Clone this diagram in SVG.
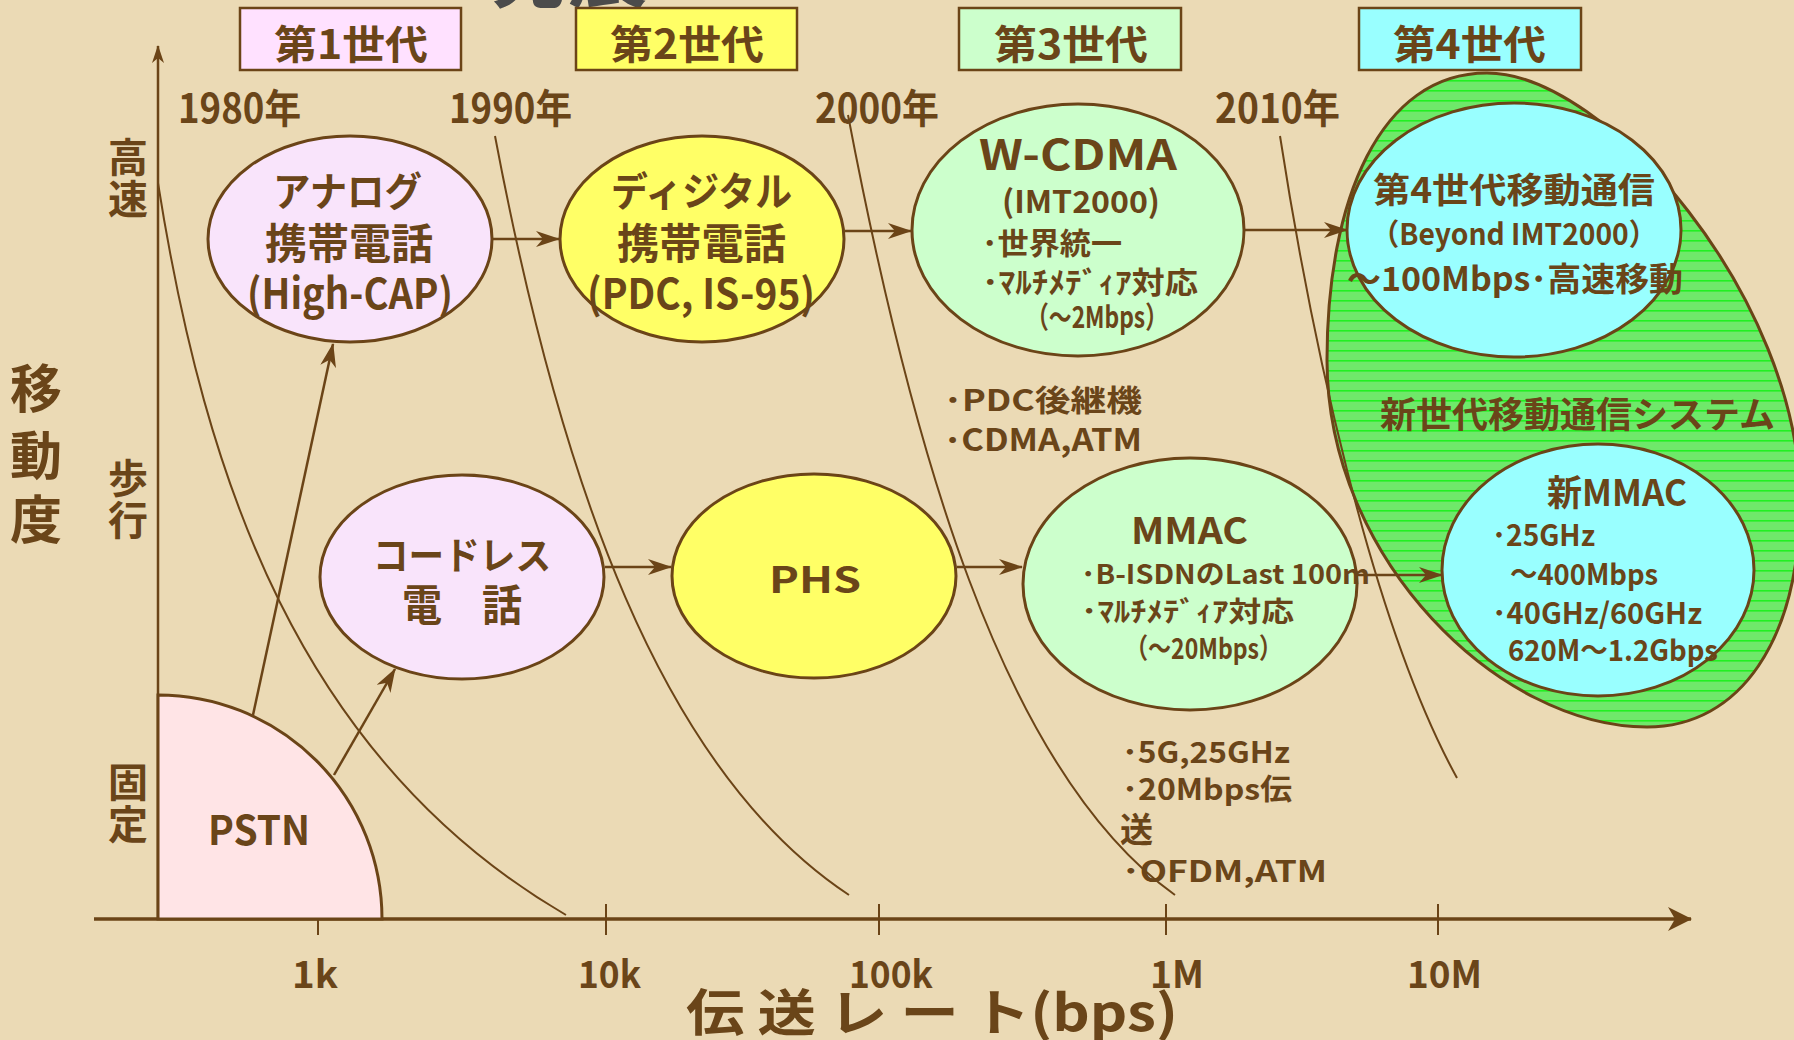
<svg xmlns="http://www.w3.org/2000/svg" width="1794" height="1040" viewBox="0 0 1794 1040">
<defs>
<style>
.t{font-family:"Noto Sans CJK JP","Noto Sans",sans-serif;font-weight:bold;fill:#6A4519;}
.ln{fill:none;stroke:#6B4417;stroke-width:2;}
.el{stroke:#6B4417;stroke-width:3;}
.box{stroke:#6B4417;stroke-width:2.5;}
.ar{fill:none;stroke:#6B4417;stroke-width:2.5;marker-end:url(#ah);}
</style>
<marker id="ah" viewBox="0 0 24 16" refX="23" refY="8" markerWidth="24" markerHeight="16" markerUnits="userSpaceOnUse" orient="auto"><path d="M0,0 L24,8 L0,16 L7,8 Z" fill="#6B4417"/></marker>
<marker id="ahx" viewBox="0 0 24 24" refX="23" refY="12" markerWidth="24" markerHeight="24" markerUnits="userSpaceOnUse" orient="auto"><path d="M0,0 L24,12 L0,24 L7,12 Z" fill="#6B4417"/></marker>
<marker id="ahy" viewBox="0 0 18 12" refX="17" refY="6" markerWidth="18" markerHeight="12" markerUnits="userSpaceOnUse" orient="auto"><path d="M0,0 L18,6 L0,12 L5,6 Z" fill="#6B4417"/></marker>
<pattern id="hatch" width="10" height="10" patternUnits="userSpaceOnUse"><rect width="10" height="10" fill="#6FE86A"/><rect y="0" width="10" height="1.6" fill="#22F022"/></pattern>
</defs>
<rect id="background" x="0" y="0" width="1794" height="1040" fill="#EBDAB5"/>
<text class="t" x="488" y="1" font-size="76" textLength="160" lengthAdjust="spacingAndGlyphs" style="fill:#4B4B4B">発展</text>

<g id="n-newgen">
<path d="M1487,73 C1607,73 1800,300 1800,500 C1800,640 1740,727 1647,727 C1500,727 1327,560 1327,360 C1327,200 1380,73 1487,73 Z" fill="url(#hatch)" class="el"/>
<text class="t" x="1380" y="428" font-size="36" textLength="395" lengthAdjust="spacingAndGlyphs">新世代移動通信システム</text>
</g>

<g id="era-lines">
<path class="ln" d="M158,183 C205,480 300,760 566,915"/>
<path class="ln" d="M495,136 C560,480 660,770 849,895"/>
<path class="ln" d="M848,115 C910,440 1000,770 1175,895"/>
<path class="ln" d="M1280,136 C1310,330 1370,620 1457,778"/>
</g>

<g id="axes">
<line x1="158" y1="919" x2="158" y2="46" stroke="#6B4417" stroke-width="2.5" marker-end="url(#ahy)"/>
<line x1="94" y1="919" x2="1691" y2="919" stroke="#6B4417" stroke-width="3.5" marker-end="url(#ahx)"/>
<g stroke="#6B4417" stroke-width="2">
<line x1="318" y1="904" x2="318" y2="935"/>
<line x1="606" y1="904" x2="606" y2="935"/>
<line x1="879" y1="904" x2="879" y2="935"/>
<line x1="1166" y1="904" x2="1166" y2="935"/>
<line x1="1438" y1="904" x2="1438" y2="935"/>
</g>
<text class="t" x="292" y="988" font-size="38" textLength="46" lengthAdjust="spacingAndGlyphs">1k</text>
<text class="t" x="578" y="988" font-size="38" textLength="63" lengthAdjust="spacingAndGlyphs">10k</text>
<text class="t" x="849" y="988" font-size="38" textLength="84" lengthAdjust="spacingAndGlyphs">100k</text>
<text class="t" x="1150" y="988" font-size="38" textLength="54" lengthAdjust="spacingAndGlyphs">1M</text>
<text class="t" x="1407" y="988" font-size="38" textLength="75" lengthAdjust="spacingAndGlyphs">10M</text>
<text class="t" x="686" y="1031" font-size="50" textLength="492" lengthAdjust="spacingAndGlyphs">伝 送 レ ー ト(bps)</text>
<g text-anchor="middle">
<text class="t" x="128" y="172" font-size="40">高</text>
<text class="t" x="128" y="214" font-size="40">速</text>
<text class="t" x="128" y="493" font-size="40">歩</text>
<text class="t" x="128" y="535" font-size="40">行</text>
<text class="t" x="128" y="797" font-size="40">固</text>
<text class="t" x="128" y="839" font-size="40">定</text>
<text class="t" x="36" y="408" font-size="52">移</text>
<text class="t" x="36" y="475" font-size="52">動</text>
<text class="t" x="36" y="539" font-size="52">度</text>
</g>
<text class="t" x="178" y="123" font-size="40" textLength="123" lengthAdjust="spacingAndGlyphs">1980年</text>
<text class="t" x="449" y="123" font-size="40" textLength="123" lengthAdjust="spacingAndGlyphs">1990年</text>
<text class="t" x="815" y="123" font-size="40" textLength="124" lengthAdjust="spacingAndGlyphs">2000年</text>
<text class="t" x="1215" y="123" font-size="40" textLength="125" lengthAdjust="spacingAndGlyphs">2010年</text>
</g>

<g id="n-gen1"><rect class="box" x="240" y="8" width="221" height="62" fill="#FFE1FF"/><text class="t" x="274" y="59" font-size="40" textLength="154" lengthAdjust="spacingAndGlyphs">第1世代</text></g>
<g id="n-gen2"><rect class="box" x="576" y="8" width="221" height="62" fill="#FFFF66"/><text class="t" x="610" y="59" font-size="40" textLength="154" lengthAdjust="spacingAndGlyphs">第2世代</text></g>
<g id="n-gen3"><rect class="box" x="959" y="8" width="222" height="62" fill="#CCFFCC"/><text class="t" x="994" y="59" font-size="40" textLength="154" lengthAdjust="spacingAndGlyphs">第3世代</text></g>
<g id="n-gen4"><rect class="box" x="1359" y="8" width="222" height="62" fill="#99FFFF"/><text class="t" x="1393" y="59" font-size="40" textLength="153" lengthAdjust="spacingAndGlyphs">第4世代</text></g>

<g id="n-pstn">
<path class="el" d="M158,919 L158,695 A224,224 0 0 1 382,919 Z" fill="#FFE4E6"/>
<text class="t" x="208" y="845" font-size="41" textLength="102" lengthAdjust="spacingAndGlyphs">PSTN</text>
</g>

<g id="n-analog">
<ellipse class="el" cx="350" cy="239" rx="142" ry="103" fill="#F9E4FB"/>
<text class="t" x="273" y="206" font-size="40" textLength="149" lengthAdjust="spacingAndGlyphs">アナログ</text>
<text class="t" x="265" y="259" font-size="42" textLength="168" lengthAdjust="spacingAndGlyphs">携帯電話</text>
<text class="t" x="247" y="309" font-size="42" textLength="206" lengthAdjust="spacingAndGlyphs">(High-CAP)</text>
</g>

<g id="n-digital">
<ellipse class="el" cx="702" cy="239" rx="142" ry="103" fill="#FFFF66"/>
<text class="t" x="611" y="206" font-size="40" textLength="181" lengthAdjust="spacingAndGlyphs">ディジタル</text>
<text class="t" x="617" y="259" font-size="42" textLength="169" lengthAdjust="spacingAndGlyphs">携帯電話</text>
<text class="t" x="587" y="309" font-size="42" textLength="228" lengthAdjust="spacingAndGlyphs">(PDC, IS-95)</text>
</g>

<g id="n-wcdma">
<ellipse class="el" cx="1078" cy="230" rx="166" ry="126" fill="#CCFFCC"/>
<text class="t" x="979" y="170" font-size="42" textLength="198" lengthAdjust="spacingAndGlyphs">W-CDMA</text>
<text class="t" x="1002" y="213" font-size="31" textLength="158" lengthAdjust="spacingAndGlyphs">(IMT2000)</text>
<text class="t" x="982" y="254" font-size="30" textLength="140" lengthAdjust="spacingAndGlyphs">･世界統一</text>
<text class="t" x="982" y="293" font-size="30" textLength="216" lengthAdjust="spacingAndGlyphs">･ﾏﾙﾁﾒﾃﾞｨｱ対応</text>
<text class="t" x="1026" y="328" font-size="30" textLength="142" lengthAdjust="spacingAndGlyphs">（～2Mbps）</text>
</g>

<g id="n-4g">
<ellipse class="el" cx="1514" cy="230" rx="167" ry="127" fill="#99FFFF"/>
<text class="t" x="1373" y="203" font-size="35" textLength="282" lengthAdjust="spacingAndGlyphs">第4世代移動通信</text>
<text class="t" x="1371" y="245" font-size="30" textLength="286" lengthAdjust="spacingAndGlyphs">（Beyond IMT2000）</text>
<text class="t" x="1347" y="291" font-size="33" textLength="336" lengthAdjust="spacingAndGlyphs">～100Mbps･高速移動</text>
</g>

<g id="n-cordless">
<ellipse class="el" cx="462" cy="577" rx="142" ry="102" fill="#F9E4FB"/>
<text class="t" x="373" y="569" font-size="38" textLength="178" lengthAdjust="spacingAndGlyphs">コードレス</text>
<text class="t" x="402" y="621" font-size="43" textLength="120" lengthAdjust="spacingAndGlyphs">電　話</text>
</g>

<g id="n-phs">
<ellipse class="el" cx="814" cy="576" rx="142" ry="102" fill="#FFFF66"/>
<text class="t" x="769" y="593" font-size="36" textLength="92" lengthAdjust="spacingAndGlyphs">PHS</text>
</g>

<g id="n-mmac">
<ellipse class="el" cx="1190" cy="584" rx="167" ry="126" fill="#CCFFCC"/>
<text class="t" x="1131" y="544" font-size="37" textLength="117" lengthAdjust="spacingAndGlyphs">MMAC</text>
<text class="t" x="1081" y="584" font-size="27" textLength="289" lengthAdjust="spacingAndGlyphs">･B-ISDNのLast 100m</text>
<text class="t" x="1081" y="622" font-size="28" textLength="213" lengthAdjust="spacingAndGlyphs">･ﾏﾙﾁﾒﾃﾞｨｱ対応</text>
<text class="t" x="1125" y="659" font-size="28" textLength="157" lengthAdjust="spacingAndGlyphs">（～20Mbps）</text>
</g>

<g id="n-newmmac">
<ellipse class="el" cx="1598" cy="570" rx="156" ry="126" fill="#99FFFF"/>
<text class="t" x="1547" y="506" font-size="36" textLength="140" lengthAdjust="spacingAndGlyphs">新MMAC</text>
<text class="t" x="1492" y="546" font-size="29" textLength="103" lengthAdjust="spacingAndGlyphs">･25GHz</text>
<text class="t" x="1510" y="585" font-size="29" textLength="148" lengthAdjust="spacingAndGlyphs">～400Mbps</text>
<text class="t" x="1492" y="624" font-size="29" textLength="210" lengthAdjust="spacingAndGlyphs">･40GHz/60GHz</text>
<text class="t" x="1508" y="661" font-size="29" textLength="210" lengthAdjust="spacingAndGlyphs">620M～1.2Gbps</text>
</g>

<g id="notes">
<text class="t" x="944" y="411" font-size="30" textLength="198" lengthAdjust="spacingAndGlyphs">･PDC後継機</text>
<text class="t" x="944" y="451" font-size="31" textLength="198" lengthAdjust="spacingAndGlyphs">･CDMA,ATM</text>
<text class="t" x="1122" y="763" font-size="29" textLength="168" lengthAdjust="spacingAndGlyphs">･5G,25GHz</text>
<text class="t" x="1122" y="800" font-size="29" textLength="170" lengthAdjust="spacingAndGlyphs">･20Mbps伝</text>
<text class="t" x="1120" y="842" font-size="34" textLength="33" lengthAdjust="spacingAndGlyphs">送</text>
<text class="t" x="1122" y="882" font-size="29" textLength="205" lengthAdjust="spacingAndGlyphs">･OFDM,ATM</text>
</g>

<g id="connectors">
<path class="ar" d="M493,239 L559,239"/>
<path class="ar" d="M845,231 L911,231"/>
<path class="ar" d="M1245,230 L1347,230"/>
<path class="ar" d="M605,567 L671,567"/>
<path class="ar" d="M957,567 L1022,567"/>
<path class="ar" d="M1358,575 L1442,575"/>
<path class="ar" d="M253,715 L333,344"/>
<path class="ar" d="M334,775 L395,669"/>
</g>
</svg>
